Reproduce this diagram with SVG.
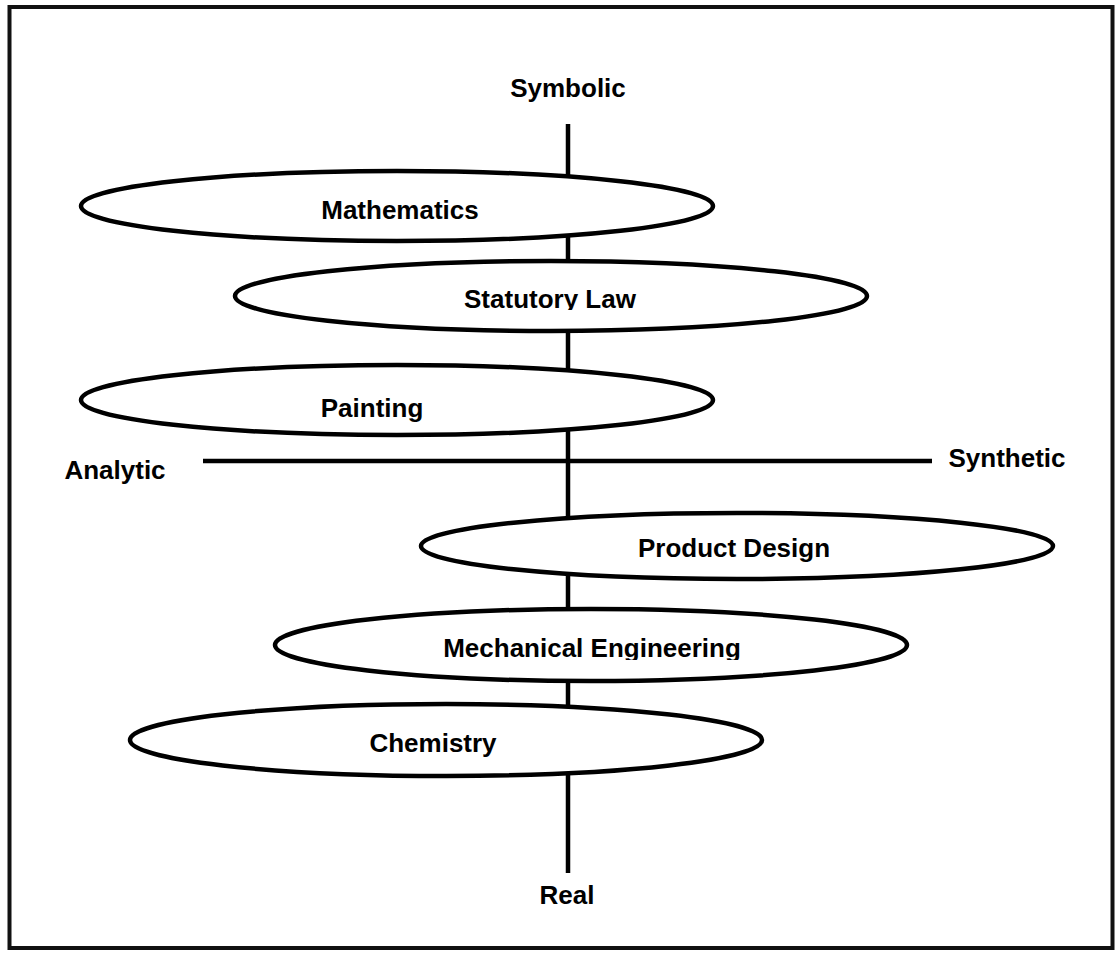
<svg xmlns="http://www.w3.org/2000/svg" width="1120" height="953" viewBox="0 0 1120 953">
<style>
.ax{stroke:#000;stroke-width:4.5;fill:none}
.nd{fill:#fff;stroke:#000;stroke-width:4.5}
.t{font-family:"Liberation Sans",Arial,sans-serif;font-weight:bold;font-size:26px;fill:#000;text-anchor:middle}
</style>
<defs>
<clipPath id="clipStat"><rect x="300" y="270" width="500" height="40"/></clipPath>
<clipPath id="clipMech"><rect x="400" y="620" width="400" height="40"/></clipPath>
</defs>
<rect x="9.5" y="7" width="1103" height="941" fill="#fff" stroke="#111" stroke-width="4"/>
<g id="axes">
<line class="ax" x1="568" y1="124" x2="568" y2="873"/>
<line class="ax" x1="203" y1="461" x2="932" y2="461"/>
</g>
<g id="axis-labels">
<text class="t" x="568" y="97">Symbolic</text>
<text class="t" x="115" y="479">Analytic</text>
<text class="t" x="1007" y="467">Synthetic</text>
<text class="t" x="567" y="904">Real</text>
</g>
<g id="mathematics"><ellipse class="nd" cx="397" cy="206" rx="316" ry="35"/><text class="t" x="400" y="219">Mathematics</text></g>
<g id="statutory-law"><ellipse class="nd" cx="551" cy="296" rx="316" ry="35"/><text class="t" x="550" y="308" clip-path="url(#clipStat)">Statutory Law</text></g>
<g id="painting"><ellipse class="nd" cx="397" cy="400" rx="316" ry="35"/><text class="t" x="372" y="417">Painting</text></g>
<g id="product-design"><ellipse class="nd" cx="737" cy="546" rx="316" ry="33"/><text class="t" x="734" y="557">Product Design</text></g>
<g id="mechanical-engineering"><ellipse class="nd" cx="591" cy="645" rx="316" ry="36"/><text class="t" x="592" y="657" clip-path="url(#clipMech)">Mechanical Engineering</text></g>
<g id="chemistry"><ellipse class="nd" cx="446" cy="740" rx="316" ry="36"/><text class="t" x="433" y="752">Chemistry</text></g>
</svg>
